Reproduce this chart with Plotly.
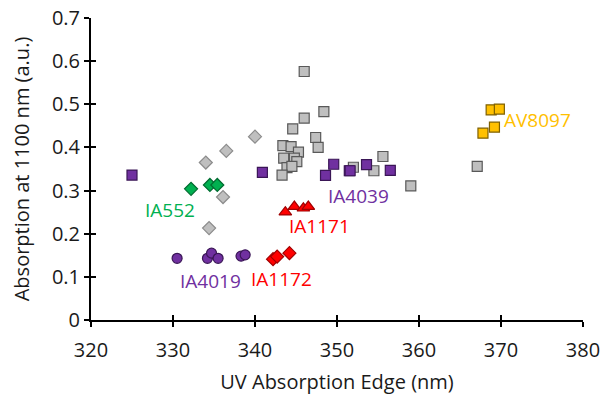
import plotly.graph_objects as go

# ---- data ----
grey_sq_x = [346.0, 348.4, 346.0, 344.6, 347.4, 347.7, 343.4, 344.4, 345.3, 343.5, 344.8, 345.1,
             343.9, 344.5, 343.3, 355.6, 354.5, 359.0, 352.0, 367.1]
grey_sq_y = [0.576, 0.483, 0.468, 0.443, 0.423, 0.400, 0.404, 0.402, 0.389, 0.375, 0.375, 0.367,
             0.353, 0.356, 0.336, 0.379, 0.346, 0.311, 0.354, 0.356]

grey_dia_x = [340.0, 336.5, 334.0, 336.1, 334.4]
grey_dia_y = [0.425, 0.392, 0.365, 0.285, 0.213]

ia4039_x = [325.0, 340.9, 348.6, 349.6, 351.5, 351.6, 353.6, 356.5]
ia4039_y = [0.336, 0.342, 0.335, 0.361, 0.346, 0.346, 0.360, 0.347]

ia552_x = [332.2, 334.5, 335.4]
ia552_y = [0.304, 0.313, 0.313]

ia4019_x = [330.5, 334.2, 334.7, 335.5, 338.3, 338.8]
ia4019_y = [0.143, 0.143, 0.155, 0.143, 0.148, 0.151]

ia1172_x = [342.2, 342.7, 344.2]
ia1172_y = [0.141, 0.147, 0.155]

ia1171_x = [343.7, 344.8, 345.9, 346.5]
ia1171_y = [0.250, 0.263, 0.259, 0.263]

av8097_x = [368.8, 369.8, 369.2, 367.8]
av8097_y = [0.487, 0.489, 0.447, 0.433]

labels = ["IA552", "IA4019", "IA1172", "IA1171", "IA4039", "AV8097"]
label_x = [329.6, 334.6, 343.2, 347.9, 352.6, 374.5]
label_y = [0.255, 0.090, 0.095, 0.217, 0.288, 0.464]
label_colors = ["#00B050", "#7030A0", "#FF0000", "#FF0000", "#7030A0", "#FFC000"]

x_ticks = [320, 330, 340, 350, 360, 370, 380]
y_ticks = [0, 0.1, 0.2, 0.3, 0.4, 0.5, 0.6, 0.7]
y_ticktext = ["0", "0.1", "0.2", "0.3", "0.4", "0.5", "0.6", "0.7"]

FONT = "Open Sans"
TXT = "#1a1a1a"

fig = go.Figure()

def add(x, y, symbol, color, edge, size=10):
    fig.add_trace(go.Scatter(
        x=x, y=y, mode="markers", showlegend=False, hoverinfo="skip",
        marker=dict(symbol=symbol, color=color, size=size,
                    line=dict(color=edge, width=1.2))))

add(grey_sq_x, grey_sq_y, "square", "#BFBFBF", "#595959", 10)
add(grey_dia_x, grey_dia_y, "diamond", "#BFBFBF", "#8C8C8C", 10)
add(ia4039_x, ia4039_y, "square", "#7030A0", "#3A1656", 10)
add(ia552_x, ia552_y, "diamond", "#00B050", "#006B30", 10)
add(ia4019_x, ia4019_y, "circle", "#7030A0", "#3A1656", 10)
add(ia1172_x, ia1172_y, "diamond", "#FF0000", "#A00000", 10)
add(ia1171_x, ia1171_y, "triangle-up", "#FF0000", "#A00000", 11)
add(av8097_x, av8097_y, "square", "#FFC000", "#7F6000", 10)

# invisible trace for the overlay axes (inner half of the crossing ticks)
fig.add_trace(go.Scatter(x=[350], y=[0.35], xaxis="x2", yaxis="y2", mode="markers",
                         marker=dict(opacity=0), showlegend=False, hoverinfo="skip"))

for t, lx, ly, c in zip(labels, label_x, label_y, label_colors):
    fig.add_annotation(x=lx, y=ly, text=t, showarrow=False,
                       font=dict(family=FONT, size=19, color=c))

axis_common = dict(showgrid=False, zeroline=False, showline=True, linecolor="black",
                   linewidth=2, ticks="outside", ticklen=5, tickwidth=2, tickcolor="black",
                   ticklabeloverflow="allow", automargin=False,
                   tickfont=dict(family=FONT, size=20, color=TXT))

fig.update_layout(
    width=612, height=395,
    margin=dict(l=91, r=29, t=18, b=75),
    paper_bgcolor="white", plot_bgcolor="white",
    xaxis=dict(range=[320, 380], tickvals=x_ticks, ticklabelstandoff=6, **axis_common,
               title=dict(text="UV Absorption Edge (nm)", standoff=13,
                          font=dict(family=FONT, size=20, color=TXT))),
    yaxis=dict(range=[0, 0.7], tickvals=y_ticks, ticktext=y_ticktext, **axis_common,
               title=dict(text="Absorption at 1100 nm (a.u.)", standoff=17,
                          font=dict(family=FONT, size=20, color=TXT))),
    xaxis2=dict(range=[320, 380], tickvals=x_ticks, overlaying="x", anchor="y2", side="bottom",
                showgrid=False, zeroline=False, showline=False, showticklabels=False,
                ticks="inside", ticklen=5, tickwidth=2, tickcolor="black"),
    yaxis2=dict(range=[0, 0.7], tickvals=y_ticks, overlaying="y", anchor="x2", side="left",
                showgrid=False, zeroline=False, showline=False, showticklabels=False,
                ticks="inside", ticklen=5, tickwidth=2, tickcolor="black"),
)

fig.write_html("out.html", config={"displayModeBar": False},
               post_script="document.body.style.margin='0';")
